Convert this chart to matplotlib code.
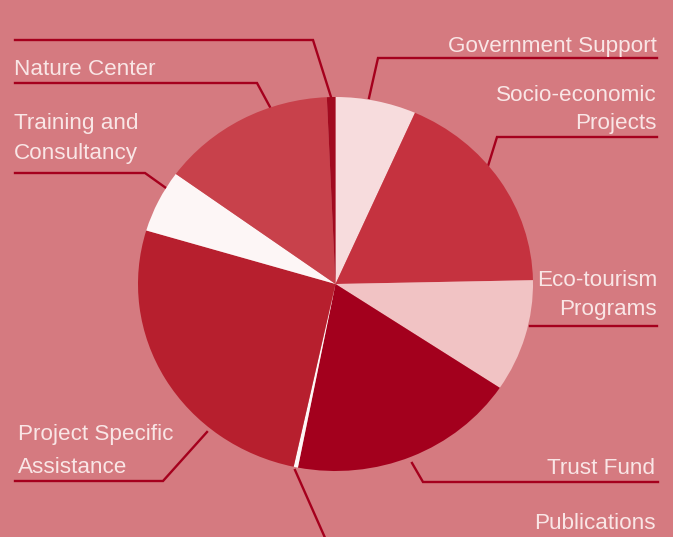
import matplotlib
matplotlib.use("Agg")
import matplotlib.pyplot as plt

# ---- data (shares of the pie, clockwise from 12 o'clock) ----
categories = ["Government Support", "Socio-economic Projects", "Eco-tourism Programs",
              "Trust Fund", "Publications", "Project Specific Assistance",
              "Training and Consultancy", "Nature Center", "Other"]
values = [6.6, 18.1, 9.7, 18.7, 0.35, 26.25, 5.4, 14.3, 0.7]
colors = ["#f7dcdd", "#c5323f", "#f1c3c4", "#a3001d", "#fdf7f7",
          "#b71f2e", "#fdf6f6", "#c8414b", "#a10a1f"]

BG = "#d57a80"
LINE = "#a5001d"
TXT = "#f9e6e6"

W, H = 673, 537
fig = plt.figure(figsize=(W / 100, H / 100), dpi=100, facecolor=BG)

# overlay axes in pixel coordinates for labels/leader lines
ov = fig.add_axes([0, 0, 1, 1])
ov.set_xlim(0, W)
ov.set_ylim(H, 0)
ov.axis("off")

# pie axes (slightly elliptical as in the reference)
px0, px1, py0, py1 = 138, 533, 97, 471
pa = fig.add_axes([px0 / W, (H - py1) / H, (px1 - px0) / W, (py1 - py0) / H])
pa.pie(values, colors=colors, startangle=90, counterclock=False, radius=1,
       wedgeprops=dict(linewidth=0.3, edgecolor="none", antialiased=True))
pa.set_aspect("auto")
pa.set_xlim(-1, 1)
pa.set_ylim(-1, 1)
pa.axis("off")

font = dict(family=["Liberation Sans", "DejaVu Sans"], fontsize=16.2, color=TXT)

# (text, x, baseline y, ha)
labels = [
    ("Government Support", 657, 52, "right"),
    ("Socio-economic", 657, 101, "right"),
    ("Projects", 657, 129, "right"),
    ("Eco-tourism", 657, 286, "right"),
    ("Programs", 657, 315, "right"),
    ("Trust Fund", 655, 474, "right"),
    ("Publications", 656, 529, "right"),
    ("Nature Center", 14, 75, "left"),
    ("Training and", 14, 129, "left"),
    ("Consultancy", 14, 159, "left"),
    ("Project Specific", 18, 440, "left"),
    ("Assistance", 18, 473, "left"),
]
for t, x, y, ha in labels:
    ov.text(x, y, t, ha=ha, va="baseline", **font)

leaders = [
    [(15, 40), (313, 40), (331, 97)],          # top (cut-off label)
    [(657, 58), (378, 58), (369, 98)],         # Government Support
    [(657, 137), (497, 137), (488, 166)],      # Socio-economic
    [(657, 326), (530, 326)],                  # Eco-tourism
    [(658, 482), (423, 482), (412, 463)],      # Trust Fund
    [(295, 470), (326, 540)],                  # Publications
    [(15, 83), (257, 83), (270, 107)],         # Nature Center
    [(15, 173), (145, 173), (166, 188)],       # Training
    [(15, 481), (163, 481), (207, 432)],       # Project Specific
]
for pts in leaders:
    xs, ys = zip(*pts)
    ov.plot(xs, ys, color=LINE, lw=1.7, solid_joinstyle="miter", zorder=1)

fig.savefig("out.png", dpi=100, facecolor=BG)
